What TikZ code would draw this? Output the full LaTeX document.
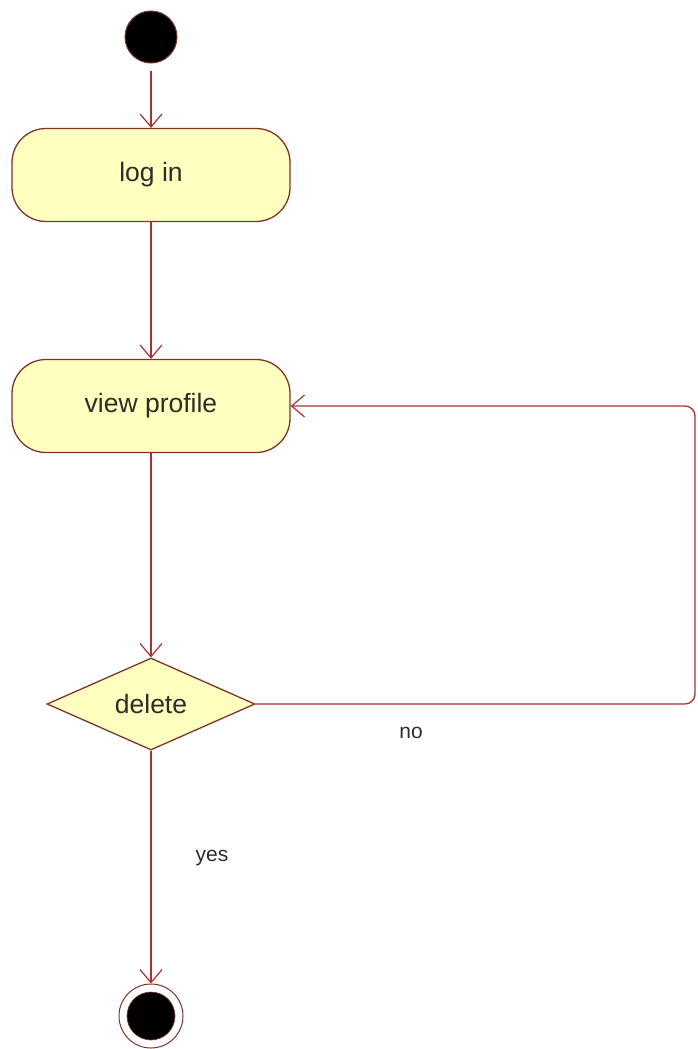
\documentclass[tikz,border=0pt]{standalone}
\usepackage{fontspec}
\setmainfont{Liberation Sans}
\usetikzlibrary{arrows.meta,shapes.geometric}
\definecolor{actfill}{RGB}{255,255,192}
\definecolor{actline}{RGB}{128,52,40}
\definecolor{flow}{RGB}{168,50,50}
\definecolor{txt}{RGB}{45,45,40}
\tikzset{
  action/.style={draw=actline, fill=actfill, line width=1.3pt, rounded corners=34pt,
    minimum width=278pt, minimum height=93pt, text=txt, font=\fontsize{26.5}{30}\selectfont},
  decision/.style={draw=actline, fill=actfill, line width=1.3pt, diamond, aspect=2.26,
    minimum width=208pt, minimum height=92pt, inner sep=0pt, text=txt, font=\fontsize{26.5}{30}\selectfont},
  flowline/.style={draw=flow, line width=1.3pt, -{Straight Barb[length=13pt,width=22pt,line width=1.2pt]}},
  guard/.style={text=txt, font=\fontsize{21}{25}\selectfont}
}
\begin{document}
\begin{tikzpicture}[x=1pt,y=-1pt]
  \useasboundingbox (0,0) rectangle (697,1049);
  % start and end states
  \node (start) [circle, draw=actline, fill=black, line width=1pt, minimum size=52pt, inner sep=0pt] at (151,37) {};
  \node (finish) [circle, draw=actline, line width=1pt, minimum size=64pt, inner sep=0pt] at (151,1016) {};
  \node (finishdot) [circle, fill=black, draw=actline, line width=0.6pt, minimum size=48pt, inner sep=0pt] at (151,1016) {};
  % activities
  \node (login) [action] at (151,175) {log in};
  \node (view) [action] at (151,406) {view profile};
  \node (del) [decision] at (151,704) {delete};
  % loop corner
  \coordinate (c1) at (695,704);
  \coordinate (c2) at (695,406);
  % flows
  \draw[flowline] (start.south) ++(0,8) -- (login.north);
  \draw[flowline] (login.south) -- (view.north);
  \draw[flowline] (view.south) -- (del.north);
  \draw[flowline] (del.south) -- (finish.north);
  \draw[flowline, rounded corners=10pt] (del.east) -- (c1) -- (c2) -- (view.east);
  % guards
  \node (no) [guard] at (411,733) {no};
  \node (yes) [guard] at (212,858) {yes};
\end{tikzpicture}
\end{document}
